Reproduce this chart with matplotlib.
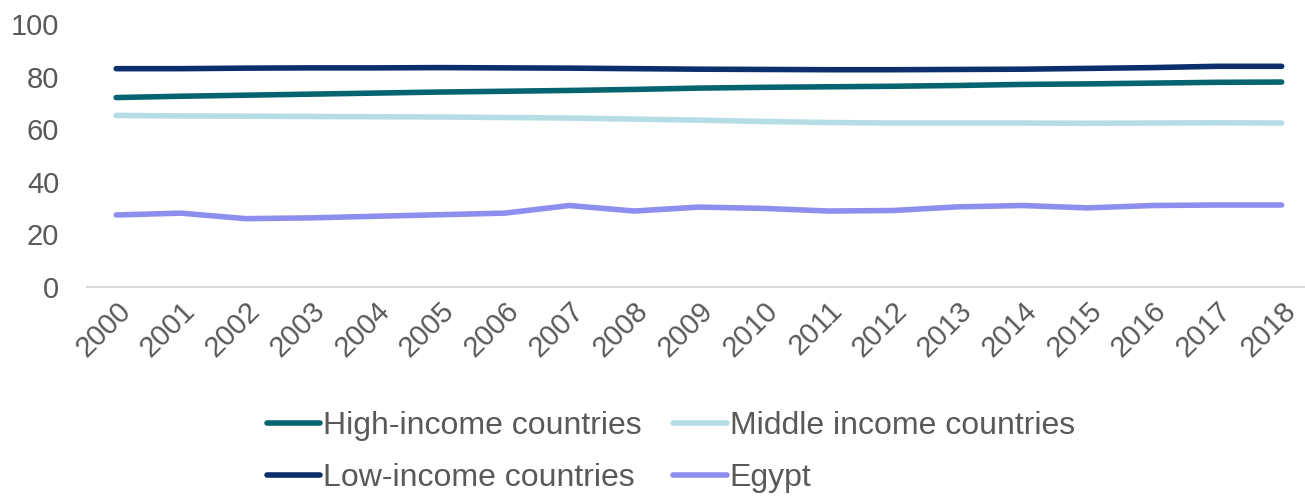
import matplotlib
matplotlib.use("Agg")
from matplotlib import pyplot as plt

plt.rcParams["font.family"] = ["Liberation Sans", "DejaVu Sans"]

years = [str(y) for y in range(2000, 2019)]

high_income = [72.0, 72.5, 72.9, 73.3, 73.7, 74.1, 74.4, 74.7, 75.1, 75.6,
               75.9, 76.1, 76.3, 76.6, 77.0, 77.2, 77.5, 77.8, 77.9]
middle_income = [65.2, 65.0, 64.9, 64.8, 64.7, 64.6, 64.4, 64.2, 63.8, 63.4,
                 62.9, 62.5, 62.3, 62.3, 62.3, 62.2, 62.3, 62.4, 62.3]
low_income = [83.0, 83.0, 83.2, 83.3, 83.3, 83.4, 83.3, 83.2, 83.0, 82.8,
              82.7, 82.6, 82.6, 82.7, 82.8, 83.1, 83.4, 83.9, 83.9]
egypt = [27.3, 28.0, 25.9, 26.2, 26.8, 27.4, 28.0, 30.9, 28.8, 30.3,
         29.8, 28.8, 29.0, 30.4, 30.9, 30.0, 30.9, 31.1, 31.1]

yticks = [0, 20, 40, 60, 80, 100]

text_grey = "#595959"

fig = plt.figure(figsize=(13.05, 4.96), dpi=100)
ax = fig.add_axes([0.0667, 0.422, 0.9333, 0.5296])

x = list(range(len(years)))
lw = 4.0
l_high, = ax.plot(x, high_income, color="#05646F", lw=lw, solid_capstyle="round",
                  label="High-income countries", zorder=3)
l_low, = ax.plot(x, low_income, color="#0B306C", lw=lw, solid_capstyle="round",
                 label="Low-income countries", zorder=3)
l_mid, = ax.plot(x, middle_income, color="#B5DDE6", lw=lw, solid_capstyle="round",
                 label="Middle income countries", zorder=3)
l_egy, = ax.plot(x, egypt, color="#8E8EEE", lw=lw, solid_capstyle="round",
                 label="Egypt", zorder=3)

ax.set_xlim(-0.45, 18.36)
ax.set_ylim(0, 100)
ax.set_yticks(yticks)
ax.set_xticks(x)
ax.set_xticklabels(years, rotation=45, ha="right", va="top",
                   rotation_mode="anchor")
ax.tick_params(axis="both", length=0, labelsize=21, labelcolor=text_grey)
ax.tick_params(axis="y", pad=20)
ax.tick_params(axis="x", pad=7)

for side in ["top", "right", "left"]:
    ax.spines[side].set_visible(False)
ax.spines["bottom"].set_color("#D9D9D9")
ax.spines["bottom"].set_linewidth(1.5)

leg = fig.legend(
    handles=[l_high, l_low, l_mid, l_egy],
    ncol=2,
    loc="center",
    bbox_to_anchor=(0.514, 0.088),
    frameon=False,
    fontsize=23,
    handlelength=1.66,
    handletextpad=0.1,
    columnspacing=1.0,
    labelspacing=0.68,
)
for t in leg.get_texts():
    t.set_color(text_grey)

fig.savefig("out.png", dpi=100)
